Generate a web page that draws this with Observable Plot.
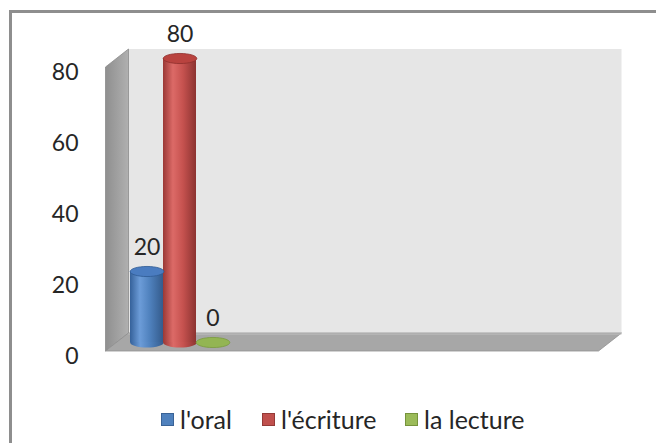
<!DOCTYPE html>
<html>
<head>
<meta charset="utf-8">
<script src="https://cdn.jsdelivr.net/npm/d3@7"></script>
<script src="https://cdn.jsdelivr.net/npm/@observablehq/plot@0.6"></script>
<style>
  html, body { margin: 0; padding: 0; background: #fff; }
  body { width: 656px; height: 443px; overflow: hidden; position: relative; font-family: Lato, "Open Sans", sans-serif; }
  #frame { position: absolute; left: 9px; top: 10px; width: 700px; height: 500px;
           border-left: 3px solid #8e8e8e; border-top: 3px solid #8e8e8e; box-sizing: border-box; }
  #chart { position: absolute; left: 0; top: 0; }
  #legend { position: absolute; top: 404px; left: 0; width: 656px; height: 30px; }
  .item { position: absolute; top: 0; display: flex; align-items: center; height: 30px;
          font-size: 25px; color: #262626; }
  .sw { width: 11px; height: 11px; margin-right: 6px; border: 1px solid; }
</style>
</head>
<body>
<svg width="0" height="0" style="position:absolute">
  <defs>
    <linearGradient id="g-blue" x1="0" x2="1" y1="0" y2="0">
      <stop offset="0" stop-color="#35619a"/>
      <stop offset="0.3" stop-color="#6c9cd8"/>
      <stop offset="0.6" stop-color="#4f81bd"/>
      <stop offset="1" stop-color="#345b8c"/>
    </linearGradient>
    <linearGradient id="g-red" x1="0" x2="1" y1="0" y2="0">
      <stop offset="0" stop-color="#9a3936"/>
      <stop offset="0.3" stop-color="#dc6a67"/>
      <stop offset="0.6" stop-color="#c6524f"/>
      <stop offset="1" stop-color="#8c3331"/>
    </linearGradient>
    <linearGradient id="g-green" x1="0" x2="1" y1="0" y2="0">
      <stop offset="0" stop-color="#7b9744"/>
      <stop offset="0.35" stop-color="#b3d17a"/>
      <stop offset="1" stop-color="#7a9545"/>
    </linearGradient>
    <linearGradient id="g-side" x1="0" x2="1" y1="0" y2="0">
      <stop offset="0" stop-color="#8f8f8f"/>
      <stop offset="1" stop-color="#b0b0b0"/>
    </linearGradient>
  </defs>
</svg>
<div id="frame"></div>
<div id="chart"></div>
<div id="legend"></div>
<script>
// ---- data ----
const series = ["l'oral", "l'écriture", "la lecture"];
const values = [20, 80, 0];
const yTicks = [0, 20, 40, 60, 80];
const bodyFill = ["url(#g-blue)", "url(#g-red)", "url(#g-green)"];
const capFill = ["#4a7cc0", "#b9433f", "#93b553"];
const capStroke = ["#2f5b93", "#8e302d", "#7a9a3f"];
const legendColor = ["#4f81bd", "#c0504d", "#9bbb59"];
const legendBorder = ["#3a6396", "#943a37", "#76933c"];
const legendLeft = [161, 262, 405];

const data = series.map((s, i) => ({series: s, value: values[i], i}));

// depth offsets of the 3D box (half depth)
const DX = 11.5, DY = 9;

const ellipse = {
  draw(ctx, size) {
    const rx = Math.sqrt(size / Math.PI), ry = rx * 0.3, k = 0.5523;
    ctx.moveTo(rx, 0);
    ctx.bezierCurveTo(rx, ry * k, rx * k, ry, 0, ry);
    ctx.bezierCurveTo(-rx * k, ry, -rx, ry * k, -rx, 0);
    ctx.bezierCurveTo(-rx, -ry * k, -rx * k, -ry, 0, -ry);
    ctx.bezierCurveTo(rx * k, -ry, rx, -ry * k, rx, 0);
    ctx.closePath();
  }
};

function walls(index, scales, values, dims) {
  const y = scales.y;
  const x0 = dims.marginLeft, x1 = dims.width - dims.marginRight;
  const yt = y(d3.max(yTicks)), yb = y(0);
  const g = d3.create("svg:g");
  g.append("rect")
    .attr("x", x0 + DX).attr("y", yt - DY)
    .attr("width", x1 - x0).attr("height", yb - yt)
    .attr("fill", "#e6e6e6");
  const poly = pts => pts.map(p => p.join(",")).join(" ");
  g.append("polygon")
    .attr("points", poly([[x0 - DX, yt + DY], [x0 + DX, yt - DY], [x0 + DX, yb - DY], [x0 - DX, yb + DY]]))
    .attr("fill", "url(#g-side)").attr("stroke", "#8a8a8a").attr("stroke-width", 0.8);
  g.append("polygon")
    .attr("points", poly([[x0 - DX, yb + DY], [x0 + DX, yb - DY], [x1 + DX, yb - DY], [x1 - DX, yb + DY]]))
    .attr("fill", "#a7a7a7").attr("stroke", "#8f8f8f").attr("stroke-width", 0.8);
  g.append("line")
    .attr("x1", x0 + DX).attr("x2", x1 + DX).attr("y1", yb - DY + 1).attr("y2", yb - DY + 1)
    .attr("stroke", "#c2c2c2").attr("stroke-width", 1.2);
  return g.node();
}

const W = 656, H = 390;
const chart = Plot.plot({
  width: W,
  height: H,
  marginLeft: 117,
  marginRight: 46,
  marginTop: 58,
  marginBottom: 48,
  style: {fontFamily: "Lato, 'Open Sans', sans-serif", color: "#262626", background: "transparent", overflow: "visible"},
  x: {type: "band", domain: series, range: [129, 230], padding: 0, axis: null},
  y: {domain: [0, 80], label: null},
  color: {type: "identity"},
  marks: [
    walls,
    Plot.axisY({ticks: yTicks, tickSize: 0, tickPadding: 39, dy: 14, fontSize: 23, label: null, tickFormat: d => String(d)}),
    // cylinder bottoms
    Plot.dot(data, {filter: d => d.value > 0, x: "series", y: () => 0, r: 16.8, symbol: ellipse,
      fill: d => bodyFill[d.i], stroke: "none"}),
    // cylinder bodies
    Plot.barY(data, {filter: d => d.value > 0, x: "series", y: "value", fill: d => bodyFill[d.i]}),
    // cylinder caps
    Plot.dot(data, {x: "series", y: "value", r: 16.8, symbol: ellipse,
      fill: d => capFill[d.i], stroke: d => capStroke[d.i], strokeWidth: 0.8}),
    // data labels
    Plot.text(data, {x: "series", y: "value", text: d => String(d.value), dy: -24, fontSize: 23, fill: "#262626"})
  ]
});
document.getElementById("chart").appendChild(chart);

// legend
const legend = document.getElementById("legend");
series.forEach((s, i) => {
  const item = document.createElement("div");
  item.className = "item";
  item.style.left = legendLeft[i] + "px";
  const sw = document.createElement("span");
  sw.className = "sw";
  sw.style.background = legendColor[i];
  sw.style.borderColor = legendBorder[i];
  const t = document.createElement("span");
  t.textContent = s;
  item.appendChild(sw);
  item.appendChild(t);
  legend.appendChild(item);
});
</script>
</body>
</html>
